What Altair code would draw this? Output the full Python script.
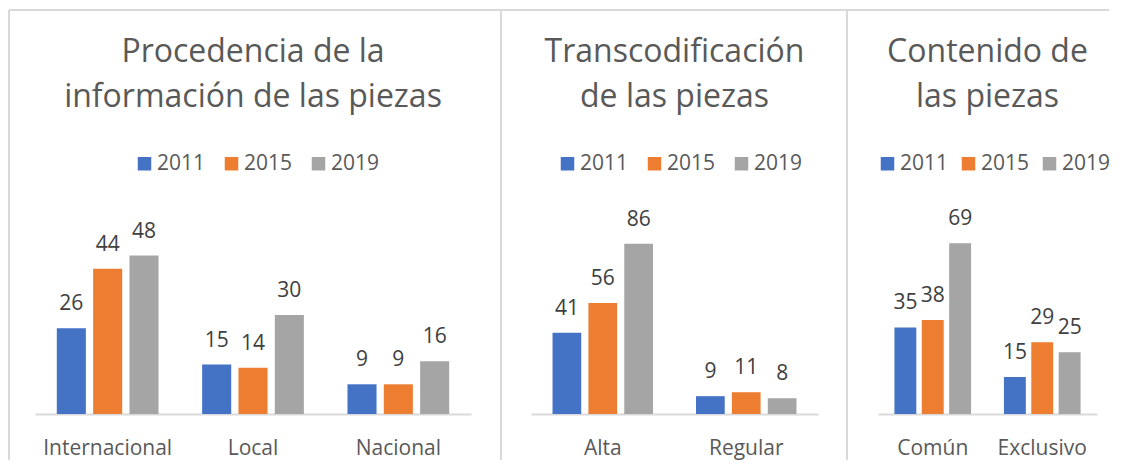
import altair as alt
import pandas as pd

years = ["2011", "2015", "2019"]
colors = ["#4472C4", "#ED7D31", "#A5A5A5"]

cats1 = ["Internacional", "Local", "Nacional"]
p1_2011 = [26, 15, 9]
p1_2015 = [44, 14, 9]
p1_2019 = [48, 30, 16]

cats2 = ["Alta", "Regular"]
p2_2011 = [41, 9]
p2_2015 = [56, 11]
p2_2019 = [86, 8]

cats3 = ["Común", "Exclusivo"]
p3_2011 = [35, 15]
p3_2015 = [38, 29]
p3_2019 = [69, 25]

title1 = ["Procedencia de la", "información de las piezas"]
title2 = ["Transcodificación", "de las piezas"]
title3 = ["Contenido de", "las piezas"]

FONT = "Open Sans"
GRID = "#D9D9D9"
TXT = "#595959"
H = 198


def panel(cats, v1, v2, v3, title, ymax, width, legend_x, col_pad, left_ext, right_ext):
    rows = []
    for c, a, b, d in zip(cats, v1, v2, v3):
        rows.append({"cat": c, "year": years[0], "value": a})
        rows.append({"cat": c, "year": years[1], "value": b})
        rows.append({"cat": c, "year": years[2], "value": d})
    df = pd.DataFrame(rows)

    x = alt.X(
        "cat:N", sort=cats, title=None,
        scale=alt.Scale(paddingInner=0, paddingOuter=0),
        axis=alt.Axis(labelAngle=0, ticks=False, tickSize=0, domainColor=GRID, domainWidth=2,
                      labelFont=FONT, labelFontSize=21, labelColor=TXT, labelPadding=23,
                      grid=False),
    )
    xo = alt.XOffset("year:N", sort=years, scale=alt.Scale(paddingInner=0.2, paddingOuter=0.6))
    y = alt.Y("value:Q", scale=alt.Scale(domain=[0, ymax]), axis=None)

    bars = alt.Chart(df).mark_bar().encode(
        x=x, xOffset=xo, y=y,
        color=alt.Color(
            "year:N", sort=years,
            scale=alt.Scale(domain=years, range=colors),
            legend=alt.Legend(
                title=None, orient="none", legendX=legend_x, legendY=-63,
                direction="horizontal", symbolType="square", symbolSize=182,
                symbolStrokeWidth=0, symbolOpacity=1, labelFont=FONT, labelFontSize=21,
                labelColor=TXT, labelOffset=2, columnPadding=col_pad, padding=0,
            ),
        ),
    )
    labels = alt.Chart(df).mark_text(
        dy=-18, baseline="alphabetic", font=FONT, fontSize=21, color="#404040"
    ).encode(x=x, xOffset=xo, y=y, text="value:Q")

    frame = alt.Chart(pd.DataFrame({"k": [0]}))
    layers = [
        frame.mark_rule(color=GRID, strokeWidth=2).encode(
            x=alt.value(-left_ext), x2=alt.value(width + right_ext), y=alt.value(-206)
        ),
        frame.mark_rule(color=GRID, strokeWidth=2).encode(
            x=alt.value(-left_ext), y=alt.value(-206), y2=alt.value(244)
        ),
        bars,
        labels,
    ]
    return alt.layer(*layers).properties(
        width=width, height=H,
        title=alt.TitleParams(
            text=title, font=FONT, fontSize=32, fontWeight="normal", color=TXT,
            lineHeight=45, anchor="middle", frame="group", offset=-105,
        ),
    )


c1 = panel(cats1, p1_2011, p1_2015, p1_2019, title1, 60, 436, 99, 15, 26, 31)
c2 = panel(cats2, p2_2011, p2_2015, p2_2019, title2, 100, 287, 26, 15, 30, 29)
c3 = panel(cats3, p3_2011, p3_2015, p3_2019, title3, 80, 219, -1, 9, 31, 12)

chart = alt.hconcat(c1, c2, c3, spacing=60, bounds="flush").resolve_scale(
    color="independent", x="independent", y="independent", xOffset="independent"
).resolve_legend(color="independent").properties(
    padding={"top": 1, "left": 0, "right": 0, "bottom": 0}, background="white"
).configure_view(strokeWidth=0)

chart.save("out.html", embed_options={"renderer": "svg", "actions": False})
